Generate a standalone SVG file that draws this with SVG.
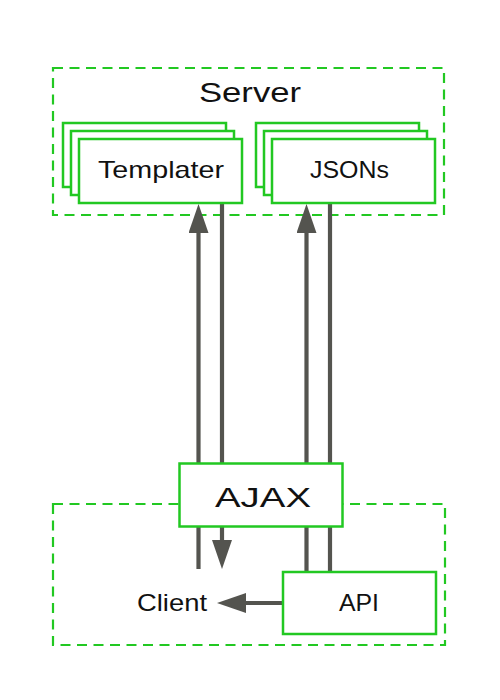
<svg xmlns="http://www.w3.org/2000/svg" width="500" height="700" viewBox="0 0 500 700">
  <defs>
    <marker id="arrow" markerUnits="userSpaceOnUse" markerWidth="29" markerHeight="20" refX="0" refY="10" orient="auto" viewBox="0 0 29 20">
      <path d="M0,0 L29,10 L0,20 Z" fill="#54544f"/>
    </marker>
  </defs>
  <style>
    .zone { fill: none; stroke: #22c822; stroke-width: 2.2; stroke-dasharray: 10 6.5; }
    .box { fill: #ffffff; stroke: #22c822; stroke-width: 2.5; }
    .conn { fill: none; stroke: #54544f; stroke-width: 4.2; stroke-linecap: butt; }
    text { font-family: "Liberation Sans", Arial, sans-serif; fill: #111111; text-anchor: middle; }
    .big { font-size: 28px; }
    .mid { font-size: 24px; }
  </style>
  <rect width="500" height="700" fill="#ffffff"/>

  <g id="server">
    <rect class="zone" x="53" y="68" width="391" height="147"/>
    <text class="big" x="250" y="102" textLength="102" lengthAdjust="spacingAndGlyphs">Server</text>
  </g>
  <g id="client-zone">
    <rect class="zone" x="53" y="504" width="392" height="141"/>
  </g>

  <g id="connectors">
    <path class="conn" d="M198.5,569 L198.5,233" marker-end="url(#arrow)"/>
    <path class="conn" d="M222,203 L222,540" marker-end="url(#arrow)"/>
    <path class="conn" d="M306.5,572 L306.5,233" marker-end="url(#arrow)"/>
    <path class="conn" d="M330,203 L330,572"/>
    <path class="conn" d="M283,603 L246,603" marker-end="url(#arrow)"/>
  </g>

  <g id="templater">
    <rect class="box" x="63" y="123" width="163" height="64"/>
    <rect class="box" x="71" y="131" width="163" height="64"/>
    <rect class="box" x="79" y="139" width="163" height="64"/>
    <text class="mid" x="161" y="178" textLength="126" lengthAdjust="spacingAndGlyphs">Templater</text>
  </g>
  <g id="jsons">
    <rect class="box" x="256" y="123" width="163" height="64"/>
    <rect class="box" x="264" y="131" width="163" height="64"/>
    <rect class="box" x="272" y="139" width="163" height="64"/>
    <text class="mid" x="349.5" y="178" textLength="79" lengthAdjust="spacingAndGlyphs">JSONs</text>
  </g>
  <g id="ajax">
    <rect class="box" x="179.5" y="463.5" width="163" height="63"/>
    <text class="big" x="263" y="507" textLength="96" lengthAdjust="spacingAndGlyphs">AJAX</text>
  </g>
  <g id="client">
    <text class="mid" x="172" y="611" textLength="70" lengthAdjust="spacingAndGlyphs">Client</text>
  </g>
  <g id="api">
    <rect class="box" x="283" y="572" width="153" height="62"/>
    <text class="mid" x="359" y="611" textLength="40" lengthAdjust="spacingAndGlyphs">API</text>
  </g>
</svg>
